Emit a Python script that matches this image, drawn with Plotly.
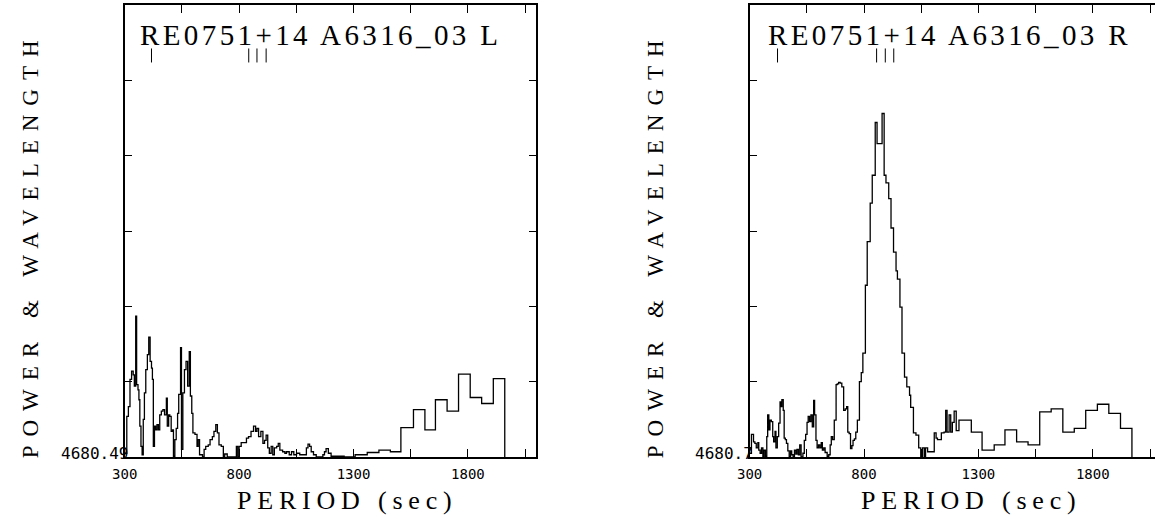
import plotly.graph_objects as go

# ---------------- data ----------------
L_PERIOD = [300, 309, 316, 323, 330, 337, 342, 348, 352, 358, 362, 366, 371, 376, 381, 386, 392, 399, 405, 411,
            417, 421, 425, 430, 435, 441, 447, 453, 460, 467, 474, 482, 486, 492, 497, 503, 509, 513, 519, 525,
            531, 536, 544, 548, 554, 561, 568, 575, 582, 587, 593, 598, 607, 616, 621, 627, 640, 647, 654, 665,
            673, 683, 690, 698, 705, 712, 722, 731, 737, 748, 788, 794, 800, 809, 823, 832, 841, 852, 863, 872,
            878, 885, 895, 904, 911, 918, 925, 932, 940, 947, 954, 964, 971, 978, 990, 1000, 1007, 1019, 1029, 1039,
            1051, 1065, 1079, 1094, 1101, 1108, 1115, 1125, 1137, 1166, 1173, 1180, 1190, 1202, 1259, 1307, 1360, 1411, 1461, 1507,
            1562, 1612, 1658, 1709, 1759, 1810, 1860, 1911, 1961]
L_POWER = [0.05, 0.54, 0.67, 1.03, 1.14, 1.09, 0.94, 1.87, 0.96, 0.89, 0.76, 0.41, 0.14, 0.03, 0.50, 0.85, 1.16, 1.36, 1.59, 1.27,
           1.18, 1.03, 0.14, 0.41, 0.36, 0.43, 0.36, 0.56, 0.61, 0.63, 0.56, 0.78, 0.41, 0.56, 0.54, 0.34, 0.36, 0.01, 0.23, 0.38,
           0.58, 0.83, 1.45, 0.10, 0.85, 1.16, 1.27, 0.94, 1.40, 0.81, 0.58, 0.32, 0.30, 0.14, 0.23, 0.03, 0.0, 0.10, 0.14, 0.16,
           0.23, 0.27, 0.34, 0.43, 0.32, 0.16, 0.14, 0.0, 0.04, 0.0, 0.14, 0.0, 0.14, 0.19, 0.19, 0.25, 0.27, 0.34, 0.41, 0.34,
           0.38, 0.27, 0.34, 0.18, 0.22, 0.29, 0.12, 0.05, 0.14, 0.03, 0.12, 0.14, 0.18, 0.09, 0.07, 0.05, 0.07, 0.03, 0.07, 0.03,
           0.05, 0.03, 0.03, 0.12, 0.17, 0.14, 0.07, 0.03, 0.0, 0.03, 0.07, 0.11, 0.05, 0.01, 0.0, 0.03, 0.06, 0.09, 0.07, 0.39,
           0.63, 0.36, 0.76, 0.61, 1.10, 0.79, 0.71, 1.04, 0.0]

R_PERIOD = [300, 308, 317, 323, 329, 336, 340, 346, 352, 358, 363, 369, 375, 379, 384, 389, 395, 401, 405, 411,
            415, 421, 427, 433, 437, 441, 447, 451, 456, 461, 467, 473, 479, 484, 490, 496, 502, 507, 513, 519,
            525, 533, 539, 545, 551, 556, 562, 568, 574, 580, 584, 590, 595, 601, 607, 613, 618, 624, 630, 639,
            646, 652, 657, 663, 670, 678, 683, 689, 696, 703, 711, 718, 724, 729, 735, 741, 747, 752, 758, 764,
            771, 780, 788, 795, 806, 814, 827, 836, 849, 857, 879, 888, 896, 908, 918, 929, 940, 946, 957, 966,
            977, 987, 999, 1004, 1016, 1027, 1039, 1048, 1056, 1064, 1069, 1078, 1107, 1115, 1121, 1130, 1138, 1150, 1157, 1163,
            1172, 1179, 1186, 1194, 1203, 1215, 1269, 1316, 1369, 1416, 1467, 1517, 1568, 1618, 1669, 1719, 1769, 1820, 1870, 1921,
            1971]
R_POWER = [0.05, 0.30, 0.20, 0.18, 0.12, 0.19, 0.09, 0.05, 0.12, 0.0, 0.09, 0.01, 0.27, 0.56, 0.36, 0.49, 0.47, 0.27, 0.20, 0.34,
           0.12, 0.27, 0.45, 0.73, 0.67, 0.76, 0.62, 0.25, 0.23, 0.18, 0.08, 0.0, 0.08, 0.03, 0.0, 0.09, 0.04, 0.10, 0.03, 0.16,
           0.0, 0.05, 0.22, 0.30, 0.46, 0.54, 0.47, 0.56, 0.40, 0.75, 0.56, 0.22, 0.12, 0.16, 0.12, 0.19, 0.09, 0.12, 0.06, 0.01,
           0.03, 0.16, 0.27, 0.23, 0.49, 0.96, 0.97, 0.99, 0.98, 0.93, 0.62, 0.64, 0.67, 0.33, 0.31, 0.11, 0.15, 0.22, 0.24, 0.33,
           0.49, 1.00, 1.12, 1.38, 2.28, 2.86, 3.37, 3.74, 4.44, 4.16, 4.56, 3.74, 3.64, 3.43, 3.04, 2.72, 2.47, 2.36, 1.99, 1.38,
           1.06, 0.93, 0.82, 0.66, 0.32, 0.29, 0.12, 0.0, 0.12, 0.0, 0.12, 0.07, 0.32, 0.25, 0.23, 0.23, 0.32, 0.33, 0.62, 0.33,
           0.56, 0.33, 0.46, 0.61, 0.35, 0.49, 0.33, 0.09, 0.16, 0.36, 0.20, 0.16, 0.60, 0.64, 0.33, 0.38, 0.62, 0.70, 0.58, 0.38,
           0.0]

# line-marker periods shown under the titles
L_MARKS = [417, 842, 878, 918]
R_MARKS = [422, 855, 893, 930]
MARK_LEVEL = 5.33

TITLES = ["RE0751+14 A6316_03 L", "RE0751+14 A6316_03 R"]
Y_BASE_LABELS = ["4680.49", "4680.7"]
X_TICKS = [300, 550, 800, 1050, 1300, 1550, 1800, 2050]
X_TICK_TEXT = ["300", "", "800", "", "1300", "", "1800", ""]
Y_TICKS = [0, 1, 2, 3, 4, 5, 6]
X_TITLE = "PERIOD (sec)"
Y_TITLE = "POWER &amp; WAVELENGTH"

# ---------------- layout geometry (pixels) ----------------
W, H = 1155, 520
PX_PER_UNIT = 0.2314
L_X0 = 113
R_X0 = 745
PLOT_W = 416
TOP, BOT = 5, 457

fig = go.Figure()

line_style = dict(color="black", width=1.3, shape="hv")
fig.add_trace(go.Scatter(x=L_PERIOD, y=L_POWER, mode="lines", line=line_style, xaxis="x", yaxis="y",
                         showlegend=False, hoverinfo="skip"))
fig.add_trace(go.Scatter(x=R_PERIOD, y=R_POWER, mode="lines", line=line_style, xaxis="x2", yaxis="y2",
                         showlegend=False, hoverinfo="skip"))
mk = dict(symbol="line-ns", size=10, line=dict(color="black", width=1), color="black")
fig.add_trace(go.Scatter(x=L_MARKS, y=[MARK_LEVEL] * len(L_MARKS), mode="markers", marker=mk,
                         xaxis="x", yaxis="y", showlegend=False, hoverinfo="skip"))
fig.add_trace(go.Scatter(x=R_MARKS, y=[MARK_LEVEL] * len(R_MARKS), mode="markers", marker=mk,
                         xaxis="x2", yaxis="y2", showlegend=False, hoverinfo="skip"))

ydom = [(H - BOT) / H, (H - TOP) / H]
tickfont = dict(family="DejaVu Sans Mono", size=14, color="black")
xcommon = dict(tickvals=X_TICKS, ticktext=X_TICK_TEXT, ticks="inside", ticklen=8, tickwidth=1,
               tickcolor="black", showline=True, linecolor="black", linewidth=2, showgrid=False,
               zeroline=False, tickfont=tickfont, tickangle=0, ticklabelstandoff=3)
ycommon = dict(range=[0, 6], tickvals=Y_TICKS, ticks="inside", ticklen=7, tickwidth=1, tickcolor="black",
               showline=True, linecolor="black", linewidth=2, showgrid=False, zeroline=False,
               showticklabels=False)

l_xmax = 300 + PLOT_W / PX_PER_UNIT
r_xmax = 300 + (W - R_X0) / PX_PER_UNIT

fig.update_layout(
    width=W, height=H, margin=dict(l=0, r=0, t=0, b=0),
    paper_bgcolor="white", plot_bgcolor="white",
    xaxis=dict(domain=[L_X0 / W, (L_X0 + PLOT_W) / W], range=[300, l_xmax], anchor="y", mirror="ticks", **xcommon),
    yaxis=dict(domain=ydom, anchor="x", mirror="ticks", **ycommon),
    xaxis2=dict(domain=[R_X0 / W, 1.0], range=[300, r_xmax], anchor="y2", mirror="ticks", **xcommon),
    yaxis2=dict(domain=ydom, anchor="x2", mirror=False, **ycommon),
)

serif = "Liberation Serif"


def spaced(txt, px):
    return '<span style="letter-spacing:%spx">%s</span>' % (px, txt)


anns = []
for i, (x0, tcx, xtc) in enumerate([(L_X0, 311.5, 338), (R_X0, 947, 969)]):
    anns.append(dict(text=spaced(TITLES[i], 3.4), x=tcx / W, y=1 - 35 / H, xref="paper", yref="paper",
                     xanchor="center", yanchor="middle", showarrow=False,
                     font=dict(family=serif, size=29, color="black")))
    anns.append(dict(text=spaced(X_TITLE, 5.8), x=xtc / W, y=1 - 500 / H, xref="paper", yref="paper",
                     xanchor="center", yanchor="middle", showarrow=False,
                     font=dict(family=serif, size=26, color="black")))
    anns.append(dict(text=spaced(Y_TITLE, 9), x=(x0 - 95.5) / W, y=1 - 245 / H, xref="paper", yref="paper",
                     xanchor="center", yanchor="middle", textangle=-90, showarrow=False,
                     font=dict(family=serif, size=23, color="black")))
    anns.append(dict(text=Y_BASE_LABELS[i], x=(x0 + 5) / W, y=1 - 453 / H, xref="paper", yref="paper",
                     xanchor="right", yanchor="middle", showarrow=False,
                     font=dict(family="DejaVu Sans Mono", size=16, color="black")))
fig.update_layout(annotations=anns)

fig.write_html("out.html")
